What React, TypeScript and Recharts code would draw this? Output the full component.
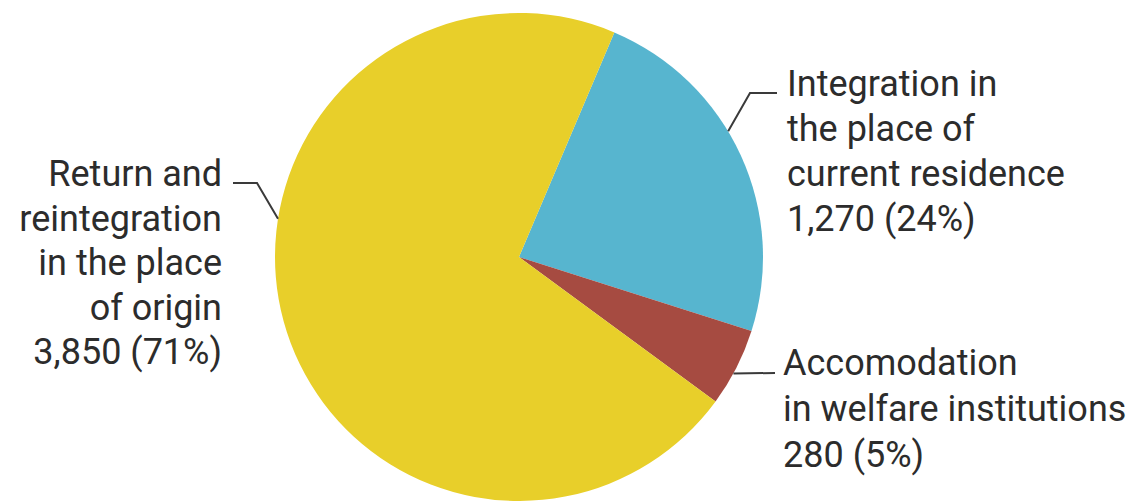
import { Cell, Pie, PieChart } from "recharts";

const CATEGORIES = [
  ["Integration in", "the place of", "current residence"],
  ["Accomodation", "in welfare institutions"],
  ["Return and", "reintegration", "in the place", "of origin"],
];
const VALUES = [1270, 280, 3850];
const SHARE_LABELS = ["1,270 (24%)", "280 (5%)", "3,850 (71%)"];

const COLORS = ["#57b5cf", "#a64b41", "#e8cf2a"];
const TEXT = "#2c2c2c";
const LINE = "#3a3a3a";
const RADIAN = Math.PI / 180;

const data = VALUES.map((value, i) => ({
  name: CATEGORIES[i].join(" "),
  value,
}));

// leader-line attach angle, elbow/end offsets and text block, relative to the pie centre
const LABEL_LAYOUT = [
  { angle: 31, elbow: [231, -164], end: [258, -164], text: [268, -161], anchor: "start", step: 45 },
  { angle: -28.5, elbow: [256, 116], end: [256, 116], text: [264, 118], anchor: "start", step: 46 },
  { angle: 171, elbow: [-262, -74], end: [-286, -74], text: [-297, -71], anchor: "end", step: 44.5 },
];

function renderLabel(props: any) {
  const { cx, cy, outerRadius, index } = props;
  const l = LABEL_LAYOUT[index];
  const sx = cx + outerRadius * Math.cos(l.angle * RADIAN);
  const sy = cy - outerRadius * Math.sin(l.angle * RADIAN);
  const lines = [...CATEGORIES[index], SHARE_LABELS[index]];
  return (
    <g key={`label-${index}`}>
      <polyline
        points={`${sx},${sy} ${cx + l.elbow[0]},${cy + l.elbow[1]} ${cx + l.end[0]},${cy + l.end[1]}`}
        fill="none"
        stroke={LINE}
        strokeWidth={2}
      />
      <text
        x={cx + l.text[0]}
        y={cy + l.text[1]}
        textAnchor={l.anchor}
        fill={TEXT}
        fontSize={36}
        fontFamily="Roboto, sans-serif"
      >
        {lines.map((t, i) => (
          <tspan key={i} x={cx + l.text[0]} dy={i === 0 ? 0 : l.step}>
            {t}
          </tspan>
        ))}
      </text>
    </g>
  );
}

export default function App() {
  return (
    <div style={{ width: 1128, height: 501, background: "#fff" }}>
      <style>{"body{margin:0}"}</style>
      <PieChart width={1128} height={501}>
        <Pie
          data={data}
          dataKey="value"
          cx={514}
          cy={252}
          outerRadius={244}
          startAngle={67}
          endAngle={-293}
          stroke="none"
          labelLine={false}
          label={renderLabel}
          isAnimationActive={false}
        >
          {data.map((_, i) => (
            <Cell key={i} fill={COLORS[i]} />
          ))}
        </Pie>
      </PieChart>
    </div>
  );
}
